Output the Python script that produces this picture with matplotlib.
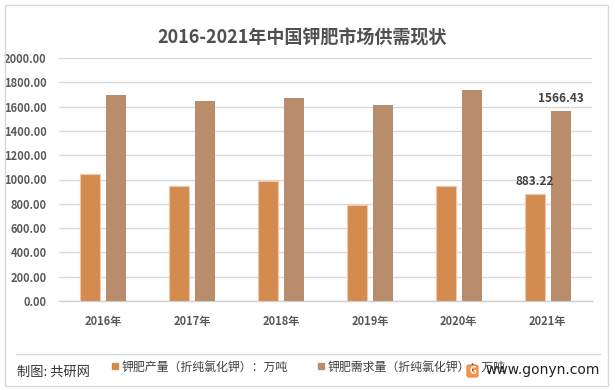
import matplotlib
matplotlib.use("Agg")
import matplotlib.pyplot as plt
from matplotlib.patches import Rectangle, FancyBboxPatch
import numpy as np

plt.rcParams['font.family'] = ['Noto Sans CJK SC', 'DejaVu Sans']

categories = ["2016年", "2017年", "2018年", "2019年", "2020年", "2021年"]
production = [1045, 947, 987, 790, 945, 883.22]
demand = [1697, 1649, 1673, 1612, 1735, 1566.43]
yticks = [0, 200, 400, 600, 800, 1000, 1200, 1400, 1600, 1800, 2000]
title = "2016-2021年中国钾肥市场供需现状"
legend_labels = ["钾肥产量（折纯氯化钾）：万吨", "钾肥需求量（折纯氯化钾）：万吨"]

c_prod = "#D38B4F"
c_dem = "#B98D6C"
txt = "#595959"

fig = plt.figure(figsize=(6.15, 3.9), dpi=100)
ax = fig.add_axes([59/615, 1-301/390, (592-59)/615, (301-58)/390])

x = np.arange(len(categories))
w = 0.225
off = 0.146
ax.bar(x - off, production, w, color=c_prod, edgecolor="#F3C8A6", linewidth=0.8, zorder=3)
ax.bar(x + off, demand, w, color=c_dem, edgecolor="none", zorder=3)

ax.set_xlim(-0.5, len(categories) - 0.5)
ax.set_ylim(0, 2000)
ax.set_yticks(yticks)
ax.set_yticklabels([f"{v:.2f}" for v in yticks], fontsize=8, color=txt, fontweight='bold')
ax.set_xticks(x)
ax.set_xticklabels(categories, fontsize=8, color=txt, fontweight='bold')
ax.tick_params(axis='both', length=0)
ax.tick_params(axis='y', pad=9)
ax.tick_params(axis='x', pad=10)
ax.grid(axis='y', color="#D9D9D9", linewidth=1, zorder=0)
for s in ["top", "right", "left"]:
    ax.spines[s].set_visible(False)
ax.spines["bottom"].set_color("#D0D0D0")
ax.spines["bottom"].set_linewidth(1)

# data labels for last year
ax.text(x[-1] - off, production[-1] + 50, f"{production[-1]:.2f}", ha='center', va='bottom',
        fontsize=8.5, color="#404040", fontweight='bold')
ax.text(x[-1] + off, demand[-1] + 50, f"{demand[-1]:.2f}", ha='center', va='bottom',
        fontsize=8.5, color="#404040", fontweight='bold')

# title
fig.text(302/615, 1-38/390, title, ha='center', va='center', fontsize=13,
         fontweight='bold', color="#505050")

# outer border
fig.patches.append(Rectangle((5/615, 1-386/390), (608-5)/615, (386-5)/390,
                             transform=fig.transFigure, fill=False,
                             edgecolor="#D9D9D9", linewidth=1))
# separator line
fig.add_artist(plt.Line2D([16/615, 600/615], [1-354/390, 1-354/390],
                          transform=fig.transFigure, color="#D9D9D9", linewidth=1))

# footer
fig.text(17/615, 1-372/390, "制图: 共研网", ha='left', va='center', fontsize=9.5, color="#333333")
for sx, tx, col, lab in [(112, 122, c_prod, legend_labels[0]), (318, 328, c_dem, legend_labels[1])]:
    fig.patches.append(Rectangle((sx/615, 1-369/390), 6/615, 6/390,
                                 transform=fig.transFigure, color=col))
    fig.text(tx/615, 1-367/390, lab, ha='left', va='center', fontsize=8.6, color="#404040")

# logo
fig.patches.append(FancyBboxPatch((467/615, 1-377/390), 11/615, 12/390,
                                  boxstyle="round,pad=0,rounding_size=0.004",
                                  transform=fig.transFigure, color="#F08A3C", alpha=0.9))
fig.text(472.5/615, 1-371/390, "G", ha='center', va='center', fontsize=7,
         color="white", fontweight='bold')
fig.text(600/615, 1-370/390, "www.gonyn.com", ha='right', va='center', fontsize=10,
         color="#222222", family=['DejaVu Sans'])

fig.savefig("out.png", dpi=100)
